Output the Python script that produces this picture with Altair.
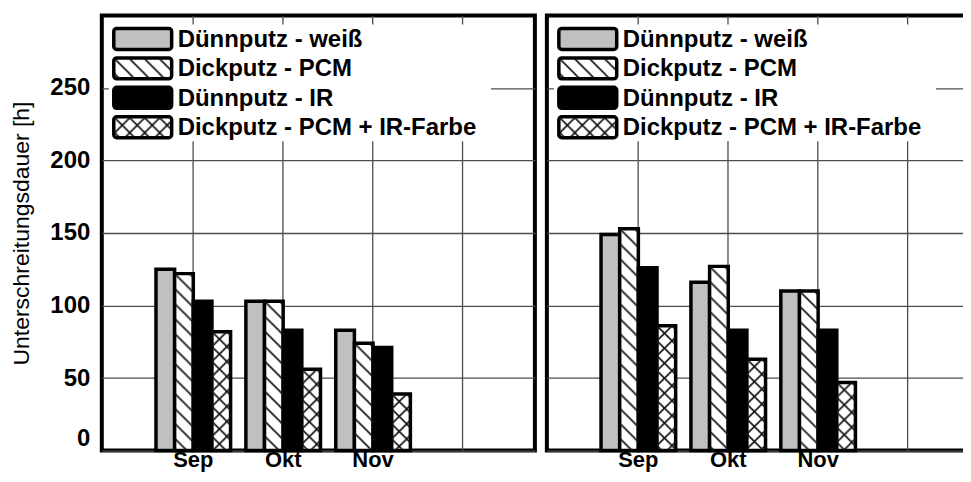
import base64
import altair as alt
import pandas as pd

# ---------------- data ----------------
months = ["Sep", "Okt", "Nov"]
axis_slots = ["Sep", "Okt", "Nov", "Dez"]
series = ["Dünnputz - weiß", "Dickputz - PCM", "Dünnputz - IR", "Dickputz - PCM + IR-Farbe"]

left_weiss = [125, 103, 83]
left_pcm = [122, 103, 74]
left_ir = [103, 83, 71]
left_pcm_ir = [82, 56, 39]

right_weiss = [149, 116, 110]
right_pcm = [153, 127, 110]
right_ir = [126, 83, 83]
right_pcm_ir = [86, 63, 47]

y_ticks = [0, 50, 100, 150, 200, 250]
y_title = "Unterschreitungsdauer [h]"

# ---------------- styles ----------------
FONT = "Liberation Sans"
fills = ["#c0c0c0", "white", "black", "white"]


def hatch_uri(cross):
    s = 15
    d = f"M-3,-3L{s+3},{s+3}M{s-3},-3L{s+3},3M-3,{s-3}L3,{s+3}"
    if cross:
        d += f"M-3,{s+3}L{s+3},-3M-3,3L3,-3M{s-3},{s+3}L{s+3},{s-3}"
    svg = (
        '<svg xmlns="http://www.w3.org/2000/svg"><defs>'
        f'<pattern id="h" width="{s}" height="{s}" patternUnits="userSpaceOnUse">'
        f'<path d="{d}" stroke="#111" stroke-width="1.6" fill="none"/></pattern></defs>'
        '<rect width="100%" height="100%" fill="url(#h)"/></svg>'
    )
    return "data:image/svg+xml;base64," + base64.b64encode(svg.encode()).decode()


patterns = [None, hatch_uri(False), None, hatch_uri(True)]
one_row = alt.Data(values=[{"k": 1}])


def legend_layers():
    layers = [
        alt.Chart(one_row).mark_rect(fill="white").encode(
            x=alt.value(7), x2=alt.value(390), y=alt.value(9), y2=alt.value(126))
    ]
    for i, name in enumerate(series):
        cy = 23.5 + 29.5 * i
        layers.append(
            alt.Chart(one_row).mark_rect(fill=fills[i], stroke="black", strokeWidth=3.5,
                                         cornerRadius=3).encode(
                x=alt.value(12), x2=alt.value(70), y=alt.value(cy - 10.5), y2=alt.value(cy + 10.5))
        )
        if patterns[i]:
            layers.append(
                alt.Chart(one_row).mark_image(url=patterns[i], aspect=False).encode(
                    x=alt.value(13), x2=alt.value(69), y=alt.value(cy - 9.5), y2=alt.value(cy + 9.5))
            )
        layers.append(
            alt.Chart(one_row).mark_text(text=name, align="left", baseline="middle", fontSize=24,
                                         fontWeight="bold", font=FONT, color="black").encode(
                x=alt.value(76), y=alt.value(cy + 1))
        )
    return layers


def panel(vals, first):
    rows = []
    for s_name, v in zip(series, vals):
        for m, val in zip(months, v):
            rows.append({"month": m, "series": s_name, "value": val})
    df = pd.DataFrame(rows)

    x = alt.X("month:N",
              scale=alt.Scale(domain=axis_slots, paddingInner=0.17, paddingOuter=0.494, align=0.61),
              axis=alt.Axis(title=None, grid=True, bandPosition=0.5, labelAngle=0, labelPadding=-1,
                            labelFontSize=22,
                            labelExpr="datum.value == 'Dez' ? '' : datum.value"))
    xo = alt.XOffset("series:N", scale=alt.Scale(domain=series, paddingInner=0, paddingOuter=0))
    if first:
        yaxis = alt.Axis(values=y_ticks, title=y_title, labelFlush=True, titlePadding=16, labelPadding=12)
    else:
        yaxis = alt.Axis(values=y_ticks, title=None, labels=False)
    y = alt.Y("value:Q", scale=alt.Scale(domain=[0, 300], nice=False), axis=yaxis)

    base = alt.Chart(df)
    bars = base.mark_bar(stroke="black", strokeWidth=3.5).encode(
        x=x, xOffset=xo, y=y,
        fill=alt.Fill("series:N", scale=alt.Scale(domain=series, range=fills), legend=None),
    )
    layers = [bars]
    for i, name in enumerate(series):
        if patterns[i]:
            layers.append(
                base.transform_filter(alt.datum.series == name)
                .mark_image(url=patterns[i], aspect=False)
                .encode(x=x, xOffset=xo, y=y, y2=alt.datum(0))
            )
    layers += legend_layers()
    return alt.layer(*layers).properties(width=434, height=436)


left = panel([left_weiss, left_pcm, left_ir, left_pcm_ir], True)
right = panel([right_weiss, right_pcm, right_ir, right_pcm_ir], False)

chart = (
    alt.hconcat(left, right, spacing=8)
    .properties(padding={"left": 0, "top": 5, "right": -19, "bottom": -1})
    .configure_view(stroke="black", strokeWidth=4)
    .configure_axis(gridColor="#4d4d4d", gridWidth=1.3, gridOpacity=1, ticks=False, domain=False,
                    labelFont=FONT, labelFontSize=24, labelFontWeight="bold", labelColor="black",
                    titleFont=FONT, titleFontSize=23, titleFontWeight="normal", titleColor="black")
)

chart.save("out.html", embed_options={"renderer": "svg", "actions": False})
